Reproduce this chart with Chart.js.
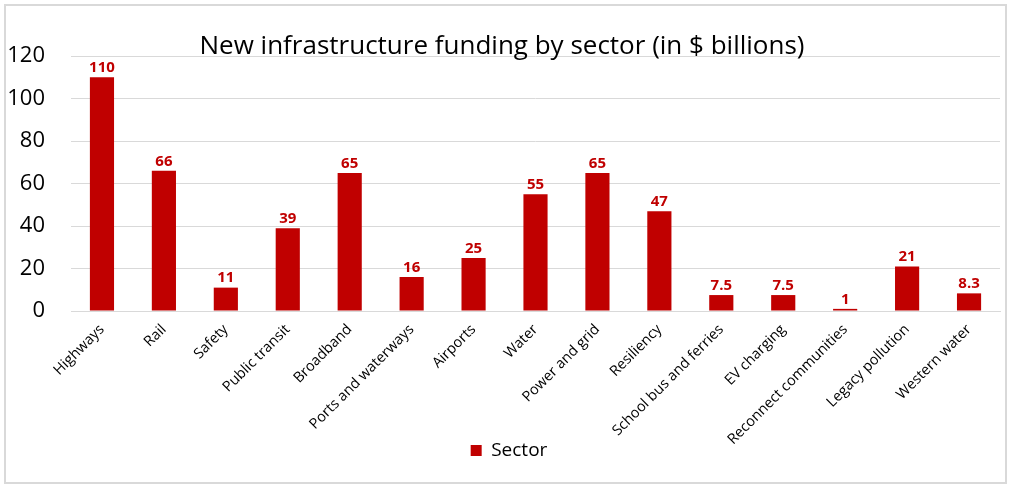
<!DOCTYPE html>
<html>
<head>
<meta charset="utf-8">
<script src="https://cdn.jsdelivr.net/npm/chart.js@4"></script>
<style>
  body { margin: 0; background: #fff; }
  #wrap { position: relative; width: 1013px; height: 490px; }
  #frame { position: absolute; left: 4px; top: 4px; width: 999px; height: 476px; border: 2px solid #d9d9d9; pointer-events: none; }
</style>
</head>
<body>
<div id="wrap">
  <canvas id="sectorChart"></canvas>
  <div id="frame"></div>
</div>
<script>
const sectors = ["Highways", "Rail", "Safety", "Public transit", "Broadband", "Ports and waterways",
  "Airports", "Water", "Power and grid", "Resiliency", "School bus and ferries", "EV charging",
  "Reconnect communities", "Legacy pollution", "Western water"];
const funding = [110, 66, 11, 39, 65, 16, 25, 55, 65, 47, 7.5, 7.5, 1, 21, 8.3];
const yTicks = [0, 20, 40, 60, 80, 100, 120];
const chartTitle = "New infrastructure funding by sector (in $ billions)";
const seriesName = "Sector";

const red = "#c00000";
const font = "'Open Sans', 'Noto Sans', sans-serif";

// title and bar value labels drawn on top
const labelPlugin = {
  id: "labels",
  afterLayout(chart) {
    // legend sits a bit higher and right, overlapping the label band like Excel does
    const lg = chart.legend;
    lg.left += 9; lg.right += 9;
    lg.top -= 20; lg.bottom -= 20;
  },
  afterDraw(chart) {
    const ctx = chart.ctx;
    ctx.save();
    ctx.fillStyle = "#000";
    ctx.font = "26px " + font;
    ctx.textAlign = "center";
    ctx.textBaseline = "alphabetic";
    ctx.fillText(chartTitle, 502, 54);

    ctx.fillStyle = red;
    ctx.font = "bold 15px " + font;
    ctx.textBaseline = "bottom";
    chart.getDatasetMeta(0).data.forEach((bar, i) => {
      ctx.fillText(String(funding[i]), bar.x, bar.y - 2);
    });
    ctx.restore();
  }
};

new Chart(document.getElementById("sectorChart"), {
  type: "bar",
  data: {
    labels: sectors,
    datasets: [{
      label: seriesName,
      data: funding,
      backgroundColor: red,
      borderWidth: 0,
      categoryPercentage: 1,
      barPercentage: 0.39
    }]
  },
  options: {
    responsive: true,
    maintainAspectRatio: false,
    animation: false,
    layout: { padding: { left: 0, top: 56, right: 13, bottom: 0 } },
    plugins: {
      title: { display: false },
      tooltip: { enabled: false },
      legend: {
        position: "bottom",
        labels: {
          boxWidth: 11,
          boxHeight: 11,
          padding: 10,
          color: "#000",
          font: { family: font, size: 19 }
        }
      }
    },
    scales: {
      x: {
        grid: { display: false },
        border: { display: true, color: "#d9d9d9", width: 1 },
        ticks: {
          autoSkip: false,
          maxRotation: 45,
          minRotation: 45,
          color: "#000",
          padding: 2,
          font: { family: font, size: 14.5 }
        },
        afterFit(scale) { scale.height = 140; }
      },
      y: {
        min: 0,
        max: 120,
        afterBuildTicks(scale) { scale.ticks = yTicks.map(v => ({ value: v })); },
        grid: { color: "#d9d9d9", lineWidth: 1, drawTicks: false },
        border: { display: false },
        ticks: {
          color: "#000",
          padding: 26,
          font: { family: font, size: 22 }
        },
        afterFit(scale) { scale.width = 71; }
      }
    }
  },
  plugins: [labelPlugin]
});
</script>
</body>
</html>
